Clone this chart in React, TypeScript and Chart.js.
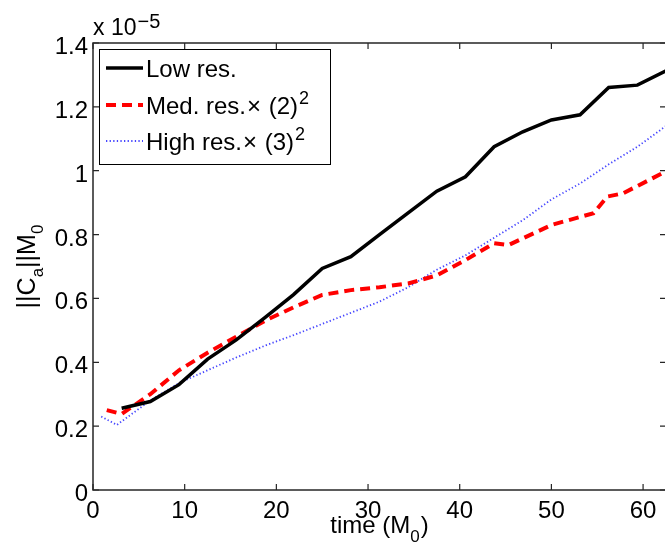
import React, { useEffect, useRef } from "react";
import { Chart, registerables } from "chart.js";

Chart.register(...registerables);

// time in M0; constraint norm in units of 1e-5
const timeLow = [3.125, 6.25, 9.375, 12.5, 15.625, 18.75, 21.875, 25, 28.125, 31.25, 34.375, 37.5, 40.625, 43.75, 46.875, 50, 53.125, 56.25, 59.375, 62.5];
const normLow = [0.256, 0.277, 0.33, 0.41, 0.47, 0.54, 0.612, 0.694, 0.731, 0.8, 0.868, 0.936, 0.981, 1.075, 1.122, 1.159, 1.175, 1.261, 1.268, 1.313];

const timeMed = [1.5, 3.125, 6.25, 9.375, 12.5, 15.625, 18.75, 21.875, 25, 28.125, 31.25, 34.375, 37.5, 40.625, 43.75, 45.3, 50, 54.6, 56.1, 57.8, 62.5];
const normMed = [0.25, 0.238, 0.3, 0.375, 0.43, 0.48, 0.53, 0.572, 0.611, 0.626, 0.635, 0.647, 0.672, 0.72, 0.773, 0.767, 0.83, 0.867, 0.919, 0.929, 0.998];

const timeHigh = [0.9, 2.6, 3.125, 6.25, 9.375, 12.5, 15.625, 18.75, 21.875, 25, 28.125, 31.25, 34.375, 37.5, 40.625, 43.75, 46.875, 50, 53.125, 56.25, 59.375, 62.5];
const normHigh = [0.23, 0.204, 0.215, 0.28, 0.335, 0.375, 0.415, 0.452, 0.485, 0.52, 0.555, 0.59, 0.635, 0.69, 0.735, 0.79, 0.845, 0.91, 0.96, 1.02, 1.075, 1.14];

const xTicks = [0, 10, 20, 30, 40, 50, 60];
const xTickLabels = ["0", "10", "20", "30", "40", "50", "60"];
const yTicks = [0, 0.2, 0.4, 0.6, 0.8, 1.0, 1.2, 1.4];
const yTickLabels = ["0", "0.2", "0.4", "0.6", "0.8", "1", "1.2", "1.4"];

const seriesNames = ["Low res.", "Med. res.", "High res."];
const seriesFactors = ["", "(2)", "(3)"];
const seriesColors = ["#000000", "#ff0000", "rgb(70,70,255)"];

const FONT = '"Liberation Sans", Arial, Helvetica, sans-serif';

const W = 670;
const H = 548;

const BLUE_DASH = [1.3, 2.3];

const decor = {
  id: "decor",
  afterDraw(chart: any) {
    const ctx: CanvasRenderingContext2D = chart.ctx;
    const { left, right, top, bottom } = chart.chartArea;
    const xs = chart.scales.x;
    const ys = chart.scales.y;
    ctx.save();

    // axes box
    ctx.strokeStyle = "#262626";
    ctx.lineWidth = 1.5;
    ctx.strokeRect(left, top, right - left, bottom - top);

    // inward ticks
    ctx.lineWidth = 1.2;
    ctx.beginPath();
    xTicks.forEach((v) => {
      const px = xs.getPixelForValue(v);
      ctx.moveTo(px, bottom);
      ctx.lineTo(px, bottom - 6);
      ctx.moveTo(px, top);
      ctx.lineTo(px, top + 6);
    });
    yTicks.forEach((v) => {
      const py = ys.getPixelForValue(v);
      ctx.moveTo(left, py);
      ctx.lineTo(left + 6, py);
      ctx.moveTo(right, py);
      ctx.lineTo(right - 6, py);
    });
    ctx.stroke();

    // tick labels
    ctx.fillStyle = "#000";
    ctx.font = `24px ${FONT}`;
    ctx.textBaseline = "alphabetic";
    ctx.textAlign = "center";
    xTicks.forEach((v, i) => {
      ctx.fillText(xTickLabels[i], xs.getPixelForValue(v), bottom + 28);
    });
    ctx.textAlign = "right";
    yTicks.forEach((v, i) => {
      ctx.fillText(yTickLabels[i], left - 5, ys.getPixelForValue(v) + 11);
    });

    // exponent label  x 10^-5
    ctx.textAlign = "left";
    ctx.font = `23px ${FONT}`;
    ctx.fillText("x 10", left, 35);
    const wx = ctx.measureText("x 10").width;
    ctx.font = `20px ${FONT}`;
    ctx.fillText("\u22125", left + wx + 1, 28);

    // x axis title: time (M_0)
    const cx = (left + right) / 2;
    ctx.font = `24px ${FONT}`;
    const p1 = "time (M";
    const p3 = ")";
    const w1 = ctx.measureText(p1).width;
    const w3 = ctx.measureText(p3).width;
    ctx.font = `17px ${FONT}`;
    const w2 = ctx.measureText("0").width;
    const total = w1 + w2 + w3 + 1;
    let sx = cx - total / 2;
    const xb = 533;
    ctx.font = `24px ${FONT}`;
    ctx.fillText(p1, sx, xb);
    sx += w1;
    ctx.font = `17px ${FONT}`;
    ctx.fillText("0", sx, xb + 9);
    sx += w2 + 1;
    ctx.font = `24px ${FONT}`;
    ctx.fillText(p3, sx, xb);

    // y axis title: ||C_a||M_0 rotated
    ctx.save();
    const cy = (top + bottom) / 2;
    ctx.translate(35, cy);
    ctx.rotate(-Math.PI / 2);
    const parts: [string, boolean][] = [
      ["||C", false],
      ["a", true],
      ["||M", false],
      ["0", true],
    ];
    const widths = parts.map(([t, sub]) => {
      ctx.font = sub ? `17px ${FONT}` : `25px ${FONT}`;
      return ctx.measureText(t).width;
    });
    const tw = widths.reduce((a, b) => a + b, 0);
    let tx = -tw / 2;
    parts.forEach(([t, sub], i) => {
      ctx.font = sub ? `17px ${FONT}` : `25px ${FONT}`;
      ctx.fillText(t, tx, sub ? 8 : 0);
      tx += widths[i];
    });
    ctx.restore();

    // legend
    const lx = 99.5, ly = 49.5, lw = 231, lh = 115;
    ctx.fillStyle = "#fff";
    ctx.fillRect(lx, ly, lw, lh);
    ctx.strokeStyle = "#000";
    ctx.lineWidth = 1;
    ctx.strokeRect(lx, ly, lw, lh);
    const rows = [68, 105, 141];
    const styles = [
      { w: 3.5, dash: [] as number[] },
      { w: 4, dash: [10, 6] },
      { w: 1.8, dash: BLUE_DASH },
    ];
    rows.forEach((ry, i) => {
      ctx.save();
      ctx.strokeStyle = seriesColors[i];
      ctx.lineWidth = styles[i].w;
      ctx.setLineDash(styles[i].dash);
      ctx.beginPath();
      ctx.moveTo(106, ry);
      ctx.lineTo(143, ry);
      ctx.stroke();
      ctx.restore();
      ctx.fillStyle = "#000";
      ctx.font = `24px ${FONT}`;
      ctx.textAlign = "left";
      const base = ry + 9;
      let px = 146;
      ctx.fillText(seriesNames[i], px, base);
      px += ctx.measureText(seriesNames[i]).width;
      if (seriesFactors[i]) {
        px += 1;
        ctx.fillText("\u00d7", px, base);
        px += ctx.measureText("\u00d7").width + 1;
        ctx.fillText(" " + seriesFactors[i], px, base);
        px += ctx.measureText(" " + seriesFactors[i]).width + 1;
        ctx.font = `18px ${FONT}`;
        ctx.fillText("2", px, base - 10);
      }
    });

    ctx.restore();
  },
};

export default function App() {
  const ref = useRef<HTMLCanvasElement>(null);
  useEffect(() => {
    if (!ref.current) return;
    const mk = (xs: number[], ys: number[]) => xs.map((x, i) => ({ x, y: ys[i] }));
    const chart = new Chart(ref.current, {
      type: "line",
      data: {
        datasets: [
          {
            label: seriesNames[2],
            data: mk(timeHigh, normHigh),
            borderColor: seriesColors[2],
            borderWidth: 1.8,
            borderDash: BLUE_DASH,
            pointRadius: 0,
            tension: 0,
            order: 3,
          },
          {
            label: seriesNames[1],
            data: mk(timeMed, normMed),
            borderColor: seriesColors[1],
            borderWidth: 4,
            borderDash: [10, 6],
            pointRadius: 0,
            tension: 0,
            order: 2,
          },
          {
            label: seriesNames[0],
            data: mk(timeLow, normLow),
            borderColor: seriesColors[0],
            borderWidth: 3.5,
            pointRadius: 0,
            tension: 0,
            order: 1,
          },
        ],
      },
      options: {
        animation: false,
        responsive: false,
        devicePixelRatio: 1,
        layout: { padding: { left: 93, top: 43, right: W - 666, bottom: H - 490 } },
        plugins: { legend: { display: false }, tooltip: { enabled: false } },
        scales: {
          x: { type: "linear", min: 0, max: 62.5, display: false },
          y: { type: "linear", min: 0, max: 1.4, display: false },
        },
      },
      plugins: [decor],
    });
    return () => chart.destroy();
  }, []);
  return (
    <div style={{ position: "absolute", left: 0, top: 0, width: 665, height: 548, overflow: "hidden", background: "#fff" }}>
      <canvas ref={ref} width={W} height={H} style={{ width: W, height: H, display: "block" }} />
    </div>
  );
}
